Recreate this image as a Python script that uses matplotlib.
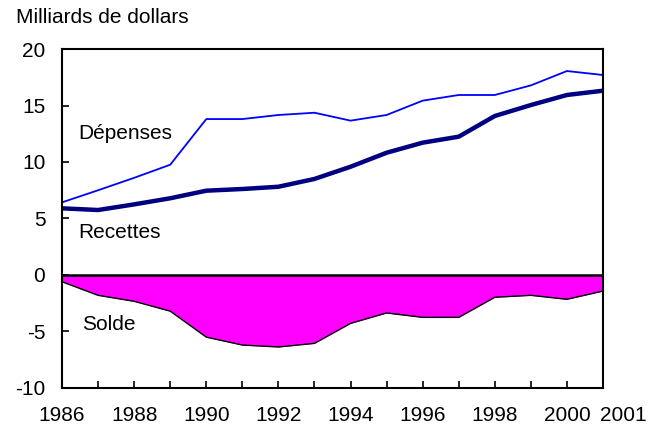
import matplotlib
matplotlib.use("Agg")
import matplotlib.pyplot as plt
from matplotlib.transforms import ScaledTranslation

plt.rcParams['font.family'] = ['Liberation Sans', 'DejaVu Sans']
plt.rcParams['axes.unicode_minus'] = False

years = list(range(1986, 2002))
depenses = [6.43, 7.5, 8.6, 9.76, 13.8, 13.8, 14.16, 14.36, 13.66, 14.16,
            15.43, 15.93, 15.93, 16.78, 18.05, 17.7]
recettes = [5.9, 5.75, 6.25, 6.79, 7.46, 7.61, 7.81, 8.5, 9.58, 10.82,
            11.71, 12.24, 14.07, 15.04, 15.93, 16.31]
solde = [-0.6, -1.8, -2.33, -3.2, -5.5, -6.2, -6.37, -6.05, -4.28, -3.36,
         -3.75, -3.75, -1.97, -1.8, -2.15, -1.42]
xlabels = ['1986', '', '1988', '', '1990', '', '1992', '', '1994', '',
           '1996', '', '1998', '', '2000', '2001']

fig = plt.figure(figsize=(6.6, 4.28), dpi=100)
ax = fig.add_axes([0.094, 0.0935, 0.8196, 0.792])

# solde: filled area under the zero line
ax.fill_between(years, solde, 0, color='#FF00FF', linewidth=0)
ax.plot(years, solde, color='black', linewidth=1.0)
ax.axhline(0, color='black', linewidth=1.8)

ax.plot(years, depenses, color='#0000FF', linewidth=1.3)
ax.plot(years, recettes, color='#000080', linewidth=3.2)

ax.set_xlim(1986, 2001)
ax.set_ylim(-10, 20)
ax.set_xticks(years)
ax.set_xticklabels(xlabels)
ax.set_yticks([-10, -5, 0, 5, 10, 15, 20])
ax.tick_params(axis='x', direction='in', length=5, width=1.2, labelsize=15, pad=13)
ax.tick_params(axis='y', direction='in', length=5, width=1.2, labelsize=15, pad=12)

# last label sits just right of the axis end
last = ax.get_xticklabels()[-1]
last.set_horizontalalignment('left')
last.set_transform(last.get_transform() + ScaledTranslation(-3 / 100, 0, fig.dpi_scale_trans))

for s in ax.spines.values():
    s.set_linewidth(1.5)
    s.set_color('black')

ax.text(1986.44, 12.5, 'Dépenses', fontsize=15, va='center')
ax.text(1986.44, 3.8, 'Recettes', fontsize=15, va='center')
ax.text(1986.55, -4.4, 'Solde', fontsize=15, va='center')

fig.text(0.024, 0.96, 'Milliards de dollars', fontsize=15, va='center')

fig.savefig('out.png', dpi=100)
